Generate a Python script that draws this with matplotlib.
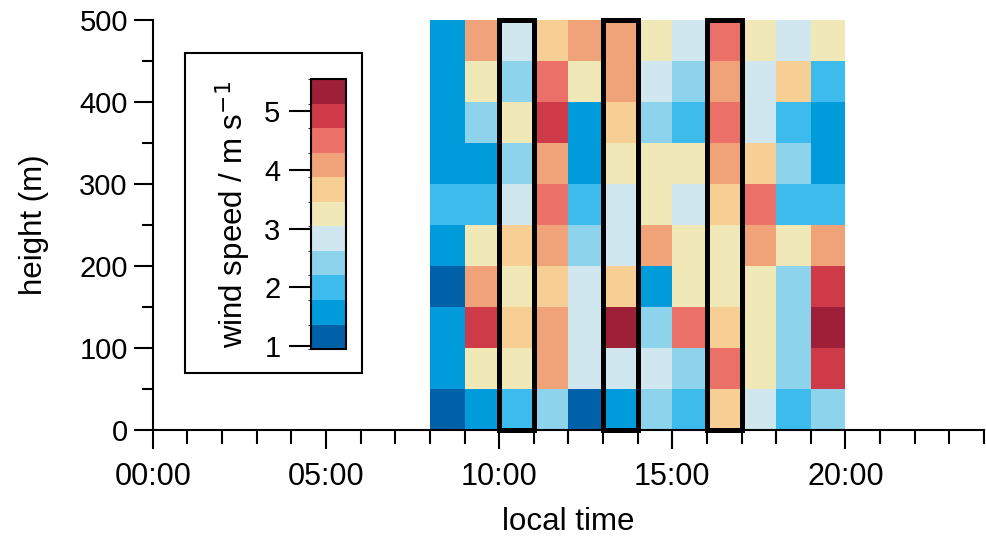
import numpy as np
import matplotlib
matplotlib.use('Agg')
import matplotlib.pyplot as plt
from matplotlib.colors import ListedColormap, BoundaryNorm
from matplotlib.patches import Rectangle

plt.rcParams['font.family'] = ['Liberation Sans', 'DejaVu Sans']

# hour bins (start of each hour) and height bin edges (m)
hours = [8, 9, 10, 11, 12, 13, 14, 15, 16, 17, 18, 19]
height_edges = [0, 50, 100, 150, 200, 250, 300, 350, 400, 450, 500]

# wind speed (m s-1), one list per hour, from the lowest to the highest bin
speed = [
    [1.2, 1.6, 1.6, 1.2, 1.6, 2.0, 1.6, 1.6, 1.6, 1.6],  # 08
    [1.6, 3.2, 4.9, 4.1, 3.2, 2.0, 1.6, 2.4, 3.2, 4.1],  # 09
    [2.0, 3.2, 3.7, 3.2, 3.7, 2.8, 2.4, 3.2, 2.4, 2.8],  # 10
    [2.4, 4.1, 4.1, 3.7, 4.1, 4.5, 4.1, 4.9, 4.5, 3.7],  # 11
    [1.2, 2.8, 2.8, 2.8, 2.4, 2.0, 1.6, 1.6, 3.2, 4.1],  # 12
    [1.6, 2.8, 5.3, 3.7, 2.8, 2.8, 3.2, 3.7, 4.1, 4.1],  # 13
    [2.4, 2.8, 2.4, 1.6, 4.1, 3.2, 3.2, 2.4, 2.8, 3.2],  # 14
    [2.0, 2.4, 4.5, 3.2, 3.2, 2.8, 3.2, 2.0, 2.4, 2.8],  # 15
    [3.7, 4.5, 3.7, 3.2, 3.2, 3.7, 4.1, 4.5, 4.1, 4.5],  # 16
    [2.8, 3.2, 3.2, 3.2, 4.1, 4.5, 3.7, 2.8, 2.8, 3.2],  # 17
    [2.0, 2.4, 2.4, 2.4, 3.2, 2.0, 2.4, 2.0, 3.7, 2.8],  # 18
    [2.4, 4.9, 5.3, 4.9, 4.1, 2.0, 1.6, 1.6, 2.0, 3.2],  # 19
]

# hours that get a black frame
highlight = [10, 13, 16]

colors = ['#0061a9', '#009bdb', '#3dbbec', '#8dd3ec', '#d0e7ef', '#f1e8b8',
          '#f7cf95', '#f0a278', '#ea7068', '#cf3a48', '#9d1f38']
bounds = np.linspace(0.95, 5.55, len(colors) + 1)
cmap = ListedColormap(colors)
norm = BoundaryNorm(bounds, cmap.N)

fig = plt.figure(figsize=(9.86, 5.42), dpi=100)
ax = fig.add_axes([0.155, 0.207, 0.843, 0.756])

x_edges = hours + [hours[-1] + 1]
z = np.array(speed).T
mesh = ax.pcolormesh(x_edges, height_edges, z, cmap=cmap, norm=norm)

for h in highlight:
    ax.add_patch(Rectangle((h, height_edges[0]), 1, height_edges[-1] - height_edges[0],
                           fill=False, edgecolor='black', linewidth=3.6,
                           zorder=5, clip_on=False))

ax.set_xlim(0, 24)
ax.set_ylim(0, 500)
ax.spines['top'].set_visible(False)
ax.spines['right'].set_visible(False)
for s in ['left', 'bottom']:
    ax.spines[s].set_linewidth(1.5)

ax.set_xticks([0, 5, 10, 15, 20])
ax.set_xticklabels(['%02d:00' % h for h in [0, 5, 10, 15, 20]])
ax.set_xticks(range(25), minor=True)
ax.set_yticks(range(0, 501, 100))
ax.set_yticks(range(50, 500, 100), minor=True)
ax.tick_params(axis='both', which='major', width=1.5, length=14)
ax.tick_params(axis='x', which='major', labelsize=22, pad=9)
ax.tick_params(axis='y', which='major', labelsize=21, pad=4)
ax.tick_params(axis='x', which='minor', width=1.5, length=10)
ax.tick_params(axis='y', which='minor', width=1.5, length=8)
ax.set_xlabel('local time', fontsize=22.5, labelpad=11)
ax.set_ylabel('height (m)', fontsize=22.5, labelpad=22)

# framed colour key inside the plot
fig.patches.append(Rectangle((0.1876, 0.312), 0.1795, 0.590, transform=fig.transFigure,
                             fill=True, facecolor='white', edgecolor='black',
                             linewidth=1.5, zorder=3))
cax = fig.add_axes([0.3154, 0.356, 0.0355, 0.498])
cax.set_zorder(4)
cb = fig.colorbar(mesh, cax=cax, ticks=[1, 2, 3, 4, 5])
cb.outline.set_linewidth(1.5)
cax.yaxis.set_ticks_position('left')
cax.yaxis.set_label_position('left')
cax.tick_params(labelsize=21, width=1.5, length=16, pad=6)
cb.set_label('wind speed / m s$^{-1}$', fontsize=22.5, labelpad=8)

fig.savefig('out.png', dpi=100)
